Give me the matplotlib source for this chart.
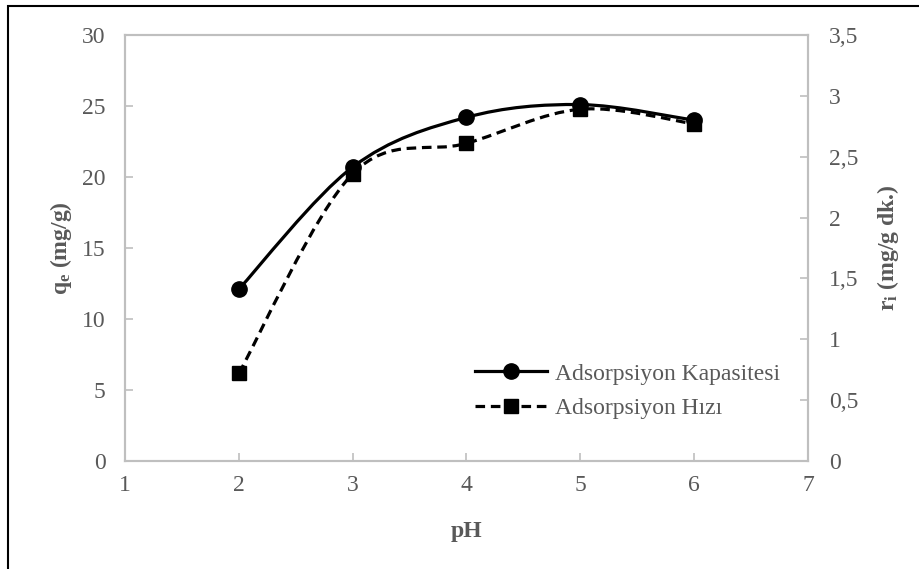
import matplotlib
matplotlib.use("Agg")
import matplotlib.pyplot as plt
from matplotlib.path import Path
from matplotlib.patches import PathPatch, Rectangle
from matplotlib.lines import Line2D
import numpy as np

ph = [2, 3, 4, 5, 6]
capacity = [12.1, 20.7, 24.2, 25.1, 24.0]
rate = [0.72, 2.36, 2.61, 2.89, 2.77]
xticks = [1, 2, 3, 4, 5, 6, 7]
left_ticks = [0, 5, 10, 15, 20, 25, 30]
right_ticks = [0, 0.5, 1, 1.5, 2, 2.5, 3, 3.5]
right_labels = ["0", "0,5", "1", "1,5", "2", "2,5", "3", "3,5"]

plt.rcParams['font.family'] = ['Liberation Serif', 'DejaVu Serif']
plt.rcParams['mathtext.fontset'] = 'custom'
plt.rcParams['mathtext.rm'] = 'Liberation Serif'
plt.rcParams['mathtext.bf'] = 'Liberation Serif:bold'
plt.rcParams['mathtext.it'] = 'Liberation Serif:italic'
GRAY = '#595959'
SPINE = '#BFBFBF'
FS = 17
LW = 2.3
DASH = (0, (3, 1.8))

fig = plt.figure(figsize=(9.2, 5.69), dpi=100)
ax = fig.add_axes([125/920, 1-461/569, (808-125)/920, (461-35)/569])
ax2 = ax.twinx()

# figure border
fig.patches.append(Rectangle((8/920, -0.1), 1.2, 1 - 6/569 + 0.1, transform=fig.transFigure,
                             fill=False, edgecolor='black', linewidth=1.5))


def smooth_path(xs, ys):
    pts = np.column_stack([xs, ys]).astype(float)
    n = len(pts)
    verts = [pts[0]]
    codes = [Path.MOVETO]
    for i in range(n - 1):
        p0 = pts[i - 1] if i > 0 else pts[i]
        p1 = pts[i]
        p2 = pts[i + 1]
        p3 = pts[i + 2] if i + 2 < n else pts[i + 1]
        c1 = p1 + (p2 - p0) / 6.0
        c2 = p2 - (p3 - p1) / 6.0
        verts += [c1, c2, p2]
        codes += [Path.CURVE4] * 3
    return Path(verts, codes)


ax.add_patch(PathPatch(smooth_path(ph, capacity), fill=False, edgecolor='black',
                       linewidth=LW, zorder=3))
ax.plot(ph, capacity, linestyle='none', marker='o', markersize=11, color='black', zorder=4)

ax2.add_patch(PathPatch(smooth_path(ph, rate), fill=False, edgecolor='black',
                        linewidth=LW, linestyle=DASH, zorder=3))
ax2.plot(ph, rate, linestyle='none', marker='s', markersize=10.5, color='black', zorder=4)

ax.set_xlim(1, 7)
ax.set_ylim(0, 30)
ax2.set_ylim(0, 3.5)
ax.set_xticks(xticks)
ax.set_yticks(left_ticks)
ax2.set_yticks(right_ticks)
ax2.set_yticklabels(right_labels)

for a in (ax, ax2):
    for s in a.spines.values():
        s.set_color(SPINE)
        s.set_linewidth(1.5)
    a.tick_params(direction='in', length=6, width=1.2, color=SPINE, labelcolor=GRAY,
                  labelsize=FS)
ax.tick_params(axis='y', pad=14)
ax.tick_params(axis='x', pad=10)
ax2.tick_params(axis='y', pad=15)

ax.set_xlabel('pH', fontsize=FS, fontweight='bold', color=GRAY, labelpad=18)
ax.set_ylabel(r'q$_\mathbf{e}$ (mg/g)', fontsize=FS, fontweight='bold', color=GRAY, labelpad=6)
ax2.set_ylabel(r'r$_\mathbf{i}$ (mg/g dk.)', fontsize=FS, fontweight='bold', color=GRAY,
               labelpad=12, rotation=90)

handles = [
    Line2D([], [], color='black', linewidth=LW, marker='o', markersize=11),
    Line2D([], [], color='black', linewidth=LW, linestyle=DASH, marker='s', markersize=10.5),
]
leg = ax.legend(handles, ['Adsorpsiyon Kapasitesi', 'Adsorpsiyon Hızı'],
                loc='center left', bbox_to_anchor=((475-125)/(808-125), (461-391)/(461-35)),
                frameon=False, fontsize=FS, handlelength=3.05, handletextpad=0.34,
                labelspacing=0.55, borderaxespad=0, borderpad=0)
for t in leg.get_texts():
    t.set_color(GRAY)

fig.savefig('out.png', dpi=100)
